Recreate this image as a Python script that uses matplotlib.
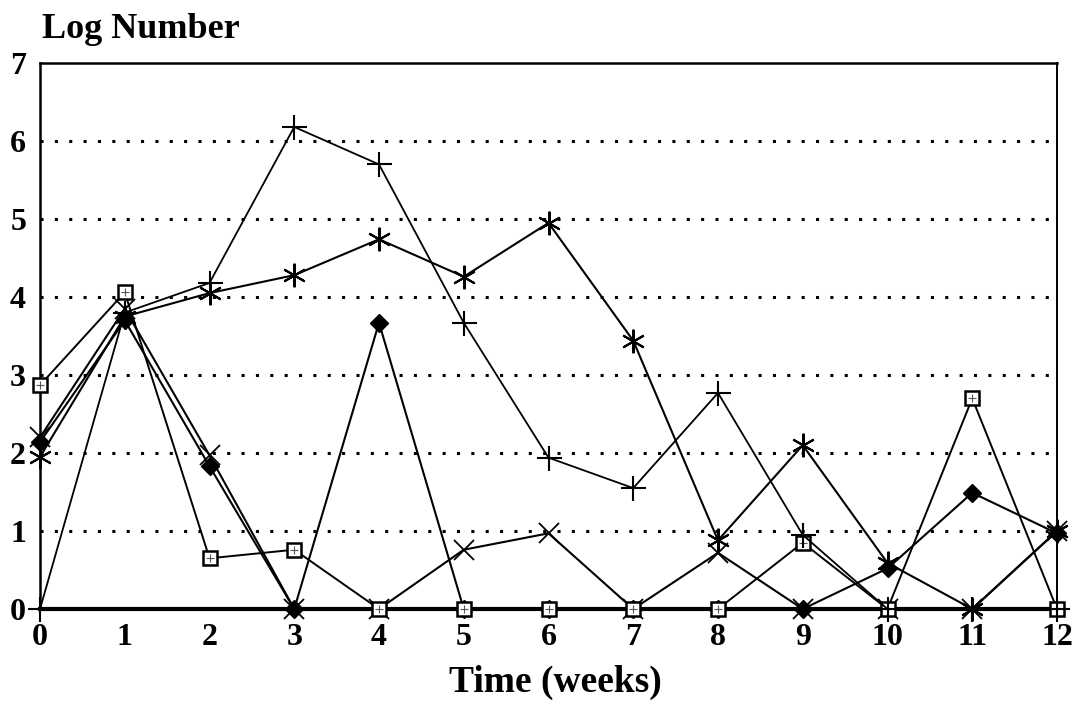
import numpy as np
import matplotlib
matplotlib.use("Agg")
import matplotlib.pyplot as plt

# log counts per sampling week
weeks = np.arange(0, 13)
plus_vals = [0, 3.8, 4.18, 6.18, 5.7, 3.67, 1.94, 1.55, 2.77, 0.95, 0, 0, 0]
star_vals = [1.95, 3.75, 4.05, 4.28, 4.74, 4.26, 4.95, 3.44, 0.88, 2.1, 0.59, 0, 1.0]
cross_vals = [2.2, 3.85, 1.97, 0, 0, 0.76, 0.97, 0, 0.72, 0, 0, 0, 1.0]
square_vals = [2.87, 4.06, 0.65, 0.76, 0, 0, 0, 0, 0, 0.85, 0, 2.7, 0]
diamond_vals = [2.14, 3.7, 1.83, 0, 3.67, 0, 0, 0, 0, 0, 0.52, 1.49, 0.97]

y_ticks = list(range(0, 8))

plt.rcParams['font.family'] = ['Liberation Serif', 'DejaVu Serif']
plt.rcParams['font.weight'] = 'bold'

fig = plt.figure(figsize=(10.85, 7.17), dpi=100)
ax = fig.add_axes([40 / 1085, 1 - 609 / 717, 1017 / 1085, 546 / 717])

asterisk = (6, 2, 0)

ax.plot(weeks, diamond_vals, color='black', lw=1.5, marker='D', ms=9,
        mfc='black', mec='black', clip_on=False, zorder=3)
ax.plot(weeks, cross_vals, color='black', lw=1.5, marker='x', ms=15,
        mew=1.3, clip_on=False, zorder=3)
ax.plot(weeks, square_vals, color='black', lw=1.4, marker='s', ms=10,
        mfc='white', mec='black', mew=1.8, clip_on=False, zorder=4)
# grid pattern inside the square markers
ax.plot(weeks, square_vals, ls='none', marker='+', ms=6, mew=0.8,
        color='#555555', clip_on=False, zorder=4.1)
ax.plot(weeks, plus_vals, color='black', lw=1.3, marker='+', ms=18,
        mew=1.5, clip_on=False, zorder=5)
ax.plot(weeks, star_vals, color='black', lw=1.5, marker=asterisk, ms=17,
        mew=1.5, clip_on=False, zorder=5)

ax.set_xlim(0, 12)
ax.set_ylim(0, 7)
ax.set_xticks(weeks)
ax.set_yticks(y_ticks)
ax.tick_params(axis='both', length=0, labelsize=23)
ax.tick_params(axis='x', pad=10)
ax.tick_params(axis='y', pad=10)

for y in range(1, 7):
    ax.plot([0, 11.9], [y, y], color='black', lw=2.2,
            ls=(0, (1, 3.7)), zorder=1)

ax.spines['bottom'].set_linewidth(3)
ax.spines['left'].set_linewidth(1.8)
ax.spines['top'].set_linewidth(1.8)
ax.spines['right'].set_linewidth(1.4)

fig.text(42 / 1085, 1 - 30 / 717, 'Log Number', fontsize=26,
         fontweight='bold', ha='left', va='center')
fig.text(555 / 1085, 1 - 682 / 717, 'Time (weeks)', fontsize=27,
         fontweight='bold', ha='center', va='center')

fig.savefig('out.png', dpi=100)
